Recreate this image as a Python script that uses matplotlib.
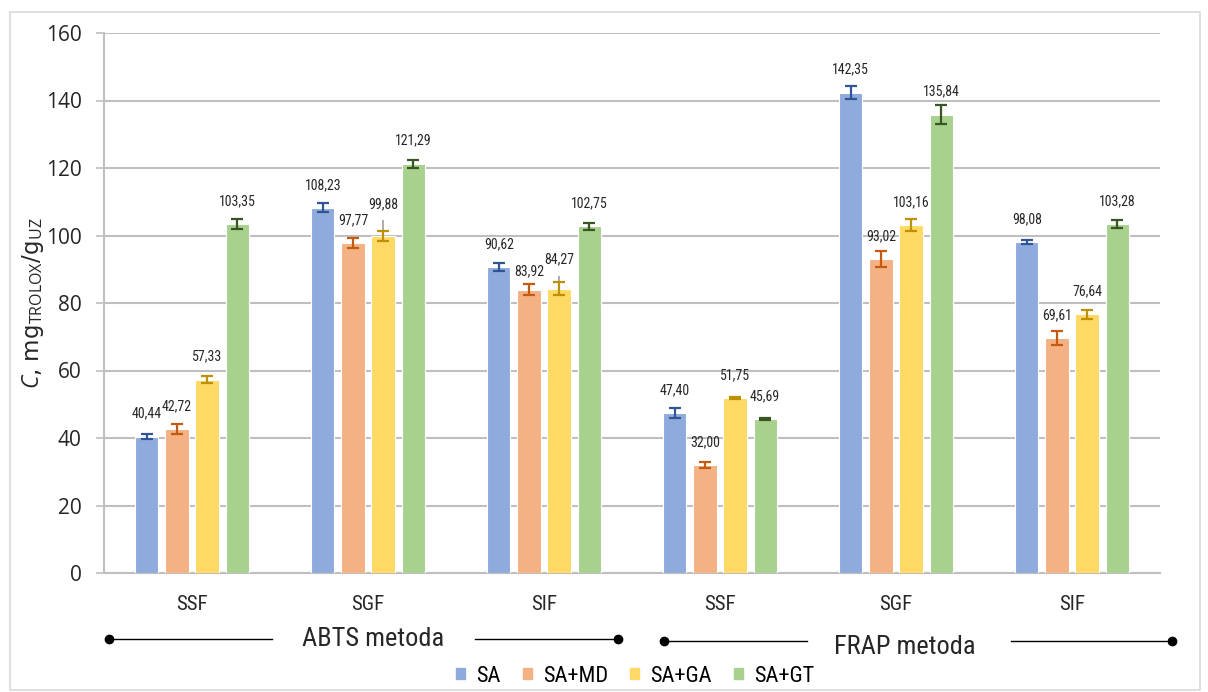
import matplotlib
matplotlib.use("Agg")
import matplotlib.pyplot as plt
from matplotlib import font_manager
from matplotlib.patches import Rectangle
from matplotlib.lines import Line2D
import numpy as np

# ---- data -------------------------------------------------------------
categories = ["SSF", "SGF", "SIF", "SSF", "SGF", "SIF"]
methods = ["ABTS metoda", "FRAP metoda"]
series_names = ["SA", "SA+MD", "SA+GA", "SA+GT"]

sa = [40.44, 108.23, 90.62, 47.40, 142.35, 98.08]
sa_md = [42.72, 97.77, 83.92, 32.00, 93.02, 69.61]
sa_ga = [57.33, 99.88, 84.27, 51.75, 103.16, 76.64]
sa_gt = [103.35, 121.29, 102.75, 45.69, 135.84, 103.28]

sa_err = [0.7, 1.4, 1.1, 1.6, 1.8, 0.65]
sa_md_err = [1.4, 1.5, 1.6, 1.0, 2.4, 2.0]
sa_ga_err = [1.0, 1.6, 1.9, 0.3, 1.8, 1.3]
sa_gt_err = [1.5, 1.2, 1.0, 0.35, 2.7, 1.2]
# additional upper deviation drawn as a grey whisker on SA+GA
sa_ga_extra = [0.0, 4.7, 3.7, 0.0, 0.0, 0.0]

yticks = [0, 20, 40, 60, 80, 100, 120, 140, 160]

# ---- style ------------------------------------------------------------
bar_colors = ["#8FAADC", "#F4B183", "#FFD966", "#A9D18E"]
err_colors = ["#2F5597", "#C55A11", "#BF9000", "#375623"]
grid_color = "#BFBFBF"
text_color = "#262626"


def pick(names):
    available = {f.name for f in font_manager.fontManager.ttflist}
    for n in names:
        if n in available:
            return n
    return "DejaVu Sans"


narrow = pick(["Liberation Sans Narrow", "Roboto Condensed", "Open Sans Condensed",
               "Open Sans", "DejaVu Sans"])
wide = pick(["Open Sans", "Noto Sans", "DejaVu Sans"])

plt.rcParams["mathtext.fontset"] = "custom"
plt.rcParams["mathtext.rm"] = wide
plt.rcParams["mathtext.it"] = wide + ":italic"

W, H = 1208, 692
fig = plt.figure(figsize=(W / 100, H / 100), dpi=100)
fig.patch.set_facecolor("white")

# outer chart frame
fig.add_artist(Rectangle((10 / W, 2 / H), 1190 / W, 678 / H, transform=fig.transFigure,
                         fill=False, edgecolor="#D9D9D9", linewidth=1.2))

ax = fig.add_axes([104 / W, 119 / H, 1056 / W, 540 / H])

series = [sa, sa_md, sa_ga, sa_gt]
errors = [sa_err, sa_md_err, sa_ga_err, sa_gt_err]
x = np.arange(len(categories))
pitch = 0.171
width = 0.132
offsets = (np.arange(4) - 1.5) * pitch

# label nudges (points above bar top) for a few crowded labels
nudge = {(2, 1): 22.5, (2, 2): 21.0, (1, 2): 13.0}

for s, (vals, errs) in enumerate(zip(series, errors)):
    xs = x + offsets[s]
    ax.bar(xs, vals, width=width, color=bar_colors[s], edgecolor="white",
           linewidth=0.8, zorder=3, label=series_names[s])
    if s == 2:
        ax.errorbar(xs, vals, yerr=[np.zeros(len(vals)), sa_ga_extra], fmt="none",
                    ecolor="#A6A6A6", elinewidth=1.3, capsize=0, zorder=4)
    ax.errorbar(xs, vals, yerr=errs, fmt="none", ecolor=err_colors[s],
                elinewidth=1.6, capsize=4, capthick=1.6, zorder=5)
    for i, v in enumerate(vals):
        off = nudge.get((s, i), 16.5)
        ax.annotate(f"{v:.2f}".replace(".", ","), (xs[i], v), xytext=(0, off),
                    textcoords="offset points", ha="center", va="center",
                    fontsize=10, family=narrow, color=text_color, zorder=6)

ax.set_xlim(-0.5, len(categories) - 0.5)
ax.set_ylim(0, 160)
ax.set_yticks(yticks)
ax.set_yticklabels([str(t) for t in yticks], fontsize=15, family=wide, color=text_color)
ax.set_xticks(x)
ax.set_xticklabels(categories, fontsize=15, family=narrow, color=text_color)
ax.tick_params(axis="x", length=0, pad=16)
ax.tick_params(axis="y", length=6, width=1.2, color=grid_color, pad=10)

ax.grid(axis="y", color=grid_color, linewidth=1.5, zorder=0)
for side in ["top", "right"]:
    ax.spines[side].set_visible(False)
for side in ["left", "bottom"]:
    ax.spines[side].set_color(grid_color)
    ax.spines[side].set_linewidth(1.5)

ax.set_ylabel(r"$\mathit{C}$, mg$_{\mathrm{TROLOX}}$/g$_{\mathrm{UZ}}$", fontsize=16.5,
              color=text_color)
ax.yaxis.set_label_coords(-58 / 1056, 0.5)

# method brackets below the categories: dots, line pieces and the method name
brackets = [
    (109, 272, 475, 618, 373, 639, 639, methods[0]),
    (664, 807, 1011, 1172, 905, 641, 647, methods[1]),
]
for x0, xa, xb, x1, xc, ly, ty, text in brackets:
    yl = (H - ly) / H
    for a, b in [(x0, xa), (xb, x1)]:
        fig.add_artist(Line2D([a / W, b / W], [yl, yl], transform=fig.transFigure,
                              color="black", linewidth=1.0))
    fig.add_artist(Line2D([x0 / W, x1 / W], [yl, yl], transform=fig.transFigure,
                          linestyle="none", marker="o", markersize=6, color="black"))
    fig.text(xc / W, (H - ty) / H, text, ha="center", va="center", fontsize=19,
             family=narrow, color=text_color)

handles = [Rectangle((0, 0), 1, 1, color=c) for c in bar_colors]
fig.legend(handles, series_names, loc="center", bbox_to_anchor=(635 / W, (H - 676) / H),
           ncol=4, frameon=False, handlelength=0.4, handleheight=0.4, handletextpad=0.5,
           columnspacing=1.0, borderpad=0, prop={"family": narrow, "size": 16})

fig.savefig("out.png", dpi=100, facecolor="white")
